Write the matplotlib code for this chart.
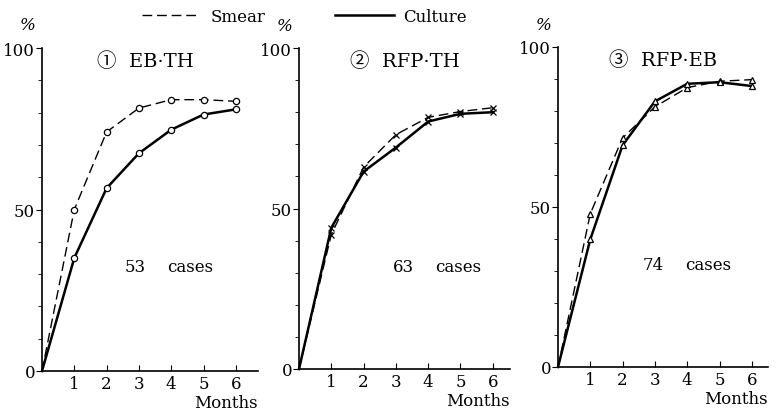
import numpy as np
import matplotlib.pyplot as plt
from matplotlib.lines import Line2D
from matplotlib.ticker import MultipleLocator

months = [0, 1, 2, 3, 4, 5, 6]

titles = ['\u2460  EB\u00b7TH', '\u2461  RFP\u00b7TH', '\u2462  RFP\u00b7EB']
cases = ['53', '63', '74']
markers = ['o', 'x', '^']

smear_1 = [0, 50, 74, 81.4, 84, 84, 83.5]
culture_1 = [0, 35, 56.6, 67.4, 74.7, 79.4, 81]
smear_2 = [0, 41.9, 62.9, 73, 78.4, 80.2, 81.4]
culture_2 = [0, 44, 61.5, 69, 77.1, 79.5, 80]
smear_3 = [0, 47.9, 71.6, 81.3, 87.3, 89.3, 89.8]
culture_3 = [0, 39.9, 69.3, 83, 88.5, 89, 87.8]

smears = [smear_1, smear_2, smear_3]
cultures = [culture_1, culture_2, culture_3]

plt.rcParams['font.family'] = ['DejaVu Serif', 'Noto Sans CJK JP']
plt.rcParams['font.size'] = 12

W, H = 781, 414
fig = plt.figure(figsize=(W / 100, H / 100), dpi=100)

# axes boxes in pixels: left, right, y of 0, y of 100
boxes = [(42, 258, 372, 49), (299, 510, 370, 49), (558, 768, 368, 48)]
case_pos = [(2.57, 32.5), (2.9, 32), (2.63, 32)]
title_x = [0.48, 0.5, 0.5]

for i in range(3):
    l, r, y0, y100 = boxes[i]
    ax = fig.add_axes([l / W, 1 - y0 / H, (r - l) / W, (y0 - y100) / H])
    xmax = (r - l) / 32.3
    ax.set_xlim(0, xmax)
    ax.set_ylim(0, 100)
    ax.spines['top'].set_visible(False)
    ax.spines['right'].set_visible(False)
    ax.spines['left'].set_linewidth(1.2)
    ax.spines['bottom'].set_linewidth(1.2)

    ax.plot(months, smears[i], color='black', lw=1.0, dashes=(7, 3.5),
            clip_on=False)
    ax.plot(months, cultures[i], color='black', lw=1.8, clip_on=False)
    mk = markers[i]
    ms = 4.5 if mk == 'o' else 5
    for s in (smears[i], cultures[i]):
        if mk == 'x':
            ax.plot(months[1:], s[1:], ls='none', marker='x', ms=ms,
                    color='black', mew=0.9, clip_on=False)
        else:
            ax.plot(months[1:], s[1:], ls='none', marker=mk, ms=ms,
                    mfc='white', mec='black', mew=0.9, clip_on=False)

    ax.set_xticks([1, 2, 3, 4, 5, 6])
    ax.tick_params(axis='x', direction='in', length=4, width=0.8, pad=3,
                   labelsize=12)
    ax.set_yticks([0, 50, 100])
    ax.yaxis.set_minor_locator(MultipleLocator(10))
    ax.tick_params(axis='y', which='major', direction='out', length=4,
                   width=0.8, pad=1, labelsize=12)
    ax.tick_params(axis='y', which='minor', direction='out', length=3,
                   width=0.6)
    ax.patch.set_alpha(0)

    ax.text(-0.03, 1.045, '%', transform=ax.transAxes, ha='right',
            va='bottom', fontsize=12, style='italic')
    ax.text(title_x[i], 0.96, titles[i], transform=ax.transAxes,
            ha='center', va='center', fontsize=14)
    cx, cy = case_pos[i]
    ax.text(cx, cy, cases[i], ha='left', va='center', fontsize=12)
    ax.text(cx + 1.3, cy, 'cases', ha='left', va='center', fontsize=12)
    ax.text(1.0, -0.072, 'Months', transform=ax.transAxes, ha='right',
            va='top', fontsize=12)

handles = [Line2D([], [], color='black', lw=1.0, dashes=(7, 3.5)),
           Line2D([], [], color='black', lw=1.8)]
fig.legend(handles, ['Smear', 'Culture'], loc='center',
           bbox_to_anchor=(0.39, 0.958), ncol=2, frameon=False,
           handlelength=3.5, handletextpad=0.6, columnspacing=4.2,
           fontsize=12)

fig.savefig('out.png', dpi=100, facecolor='white')
